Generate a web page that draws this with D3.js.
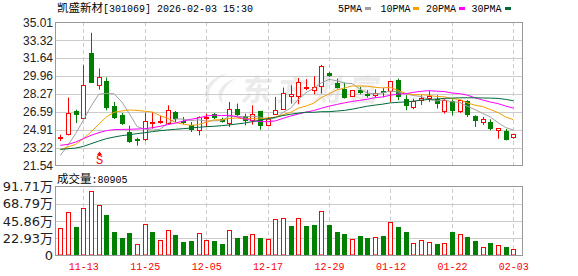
<!DOCTYPE html>
<html lang="zh-CN">
<head>
<meta charset="UTF-8">
<title>凯盛新材[301069] 日K</title>
<script src="https://d3js.org/d3.v7.min.js"></script>
<style>
  body { margin: 0; background: #fff; }
  svg { display: block; }
  .cjk { font-family: 'Noto Sans CJK SC', sans-serif; }
  .mono { font-family: 'Liberation Mono', 'DejaVu Sans Mono', monospace; }
  .mono-cjk { font-family: 'Liberation Mono', 'Noto Sans CJK SC', monospace; }
  .price-axis text { font-family: 'Liberation Sans', Arial, sans-serif; font-size: 12px; fill: #222; }
  .vol-axis text { font-family: 'DejaVu Sans', 'Noto Sans CJK SC', sans-serif; font-size: 13px; fill: #222; }
  .date-axis text { font-family: 'Liberation Mono', monospace; font-size: 10px; fill: #f00; }
  .grid line { stroke: #ccc; shape-rendering: crispEdges; }
  .grid .domain { display: none; }
  .vgrid line { stroke-dasharray: 4,3; }
</style>
</head>
<body>
<div id="chart"></div>
<script>
const stockName = "凯盛新材";
const stockCode = "301069";
const stamp = "2026-02-03 15:30";

// trading days, 11-10 .. 02-03
const dates = ["11-10","11-11","11-12","11-13","11-14","11-17","11-18","11-19","11-20","11-21",
  "11-24","11-25","11-26","11-27","11-28","12-01","12-02","12-03","12-04","12-05",
  "12-08","12-09","12-10","12-11","12-12","12-15","12-16","12-17","12-18","12-19",
  "12-22","12-23","12-24","12-25","12-26","12-29","12-30","12-31","01-05","01-06",
  "01-07","01-08","01-09","01-12","01-13","01-14","01-15","01-16","01-19","01-20",
  "01-21","01-22","01-23","01-26","01-27","01-28","01-29","01-30","02-02","02-03"];

const opens = [24.20,24.47,26.68,26.05,32.09,29.16,29.51,27.12,26.33,24.66,
  24.03,24.00,25.55,25.61,25.54,26.55,25.73,25.39,24.91,25.99,
  26.36,25.92,25.58,26.90,26.21,25.80,26.65,25.32,26.43,26.90,
  28.06,28.06,28.85,28.63,29.01,30.30,29.32,28.79,28.06,28.63,
  28.25,28.16,28.54,28.54,29.57,27.84,27.06,27.69,27.87,27.84,
  26.68,27.59,26.68,27.59,26.17,25.67,25.61,24.91,24.76,24.22];
const highs = [24.44,27.94,26.80,30.99,34.04,30.68,29.83,27.53,26.49,25.29,
  24.16,26.52,26.55,26.21,27.21,26.68,26.11,25.64,26.17,26.43,
  26.49,26.05,27.53,27.37,26.43,27.21,26.65,26.11,28.00,28.88,
  29.10,29.79,29.67,29.95,31.02,30.36,29.73,29.35,28.66,28.94,
  28.63,28.72,28.85,29.48,29.73,28.16,27.84,28.16,28.57,28.16,
  27.84,27.75,27.72,27.69,26.27,26.11,25.89,25.04,24.98,24.54];
const lows = [23.85,24.38,25.54,26.00,29.32,28.69,26.74,25.92,25.36,23.66,
  23.40,23.85,25.01,25.48,25.42,25.64,25.42,24.69,24.38,25.17,
  25.92,25.58,25.17,26.11,25.32,25.39,24.91,25.23,26.43,26.84,
  27.37,27.31,28.63,28.25,28.31,29.89,28.79,27.84,28.03,28.25,
  27.94,27.94,27.97,27.53,27.69,26.74,26.84,27.24,27.53,26.90,
  26.43,26.27,26.49,26.11,25.17,25.36,24.85,24.06,23.91,24.06];
const closes = [24.25,26.52,26.30,29.16,29.35,29.89,26.99,26.05,25.42,23.75,
  23.85,25.72,25.65,25.73,26.74,25.92,25.54,24.91,26.11,26.15,
  26.02,25.64,26.90,26.27,25.70,26.39,25.23,25.89,26.80,28.41,
  28.31,29.45,28.98,28.95,30.90,29.95,28.85,27.91,28.63,28.41,
  28.06,28.41,28.38,29.48,28.00,27.15,27.62,27.94,28.09,27.31,
  27.69,26.68,27.69,26.27,25.73,25.89,24.95,25.04,23.97,24.54];

// volume, 万
const volumes = [37.1,57.7,37.6,62.6,85.9,66.7,53.7,31.3,23.7,29.5,
  15.7,42.5,30.9,21.0,34.4,26.8,17.4,18.8,30.4,21.0,
  18.8,14.8,34.4,23.7,25.5,29.1,23.7,22.4,47.9,49.2,
  39.8,50.5,39.8,41.2,58.6,41.2,30.9,28.2,22.4,26.4,
  23.7,25.1,25.5,44.3,37.6,30.9,16.1,20.1,17.4,14.8,
  16.1,30.9,29.1,24.2,18.8,11.6,16.1,14.3,10.7,8.09];
const lastVolume = 80905;

const ma5 = [22.49,23.45,24.54,25.80,27.12,28.24,28.34,28.29,27.54,26.42,
  25.21,24.96,24.88,24.94,25.52,25.93,25.91,25.77,25.84,25.73,
  25.75,25.77,26.16,26.20,26.11,26.18,26.10,25.90,26.00,26.54,
  26.93,27.77,28.39,28.82,29.32,29.65,29.53,29.31,29.25,28.75,
  28.37,28.28,28.38,28.55,28.47,28.28,28.13,28.04,27.76,27.62,
  27.73,27.54,27.49,27.13,26.81,26.45,26.11,25.58,25.12,24.88];
const ma10 = [23.03,23.28,23.53,24.07,24.70,25.42,26.11,26.55,26.68,26.77,
  26.73,26.65,26.58,26.24,25.98,25.58,25.44,25.32,25.39,25.62,
  25.84,25.84,25.97,26.02,25.92,25.96,25.93,26.03,26.10,26.33,
  26.55,26.94,27.14,27.41,27.93,28.29,28.65,28.85,29.03,29.03,
  29.01,28.91,28.85,28.90,28.61,28.33,28.21,28.21,28.15,28.04,
  28.01,27.83,27.77,27.44,27.22,27.09,26.82,26.53,26.12,25.85];
const ma20 = [23.44,23.53,23.75,24.07,24.38,24.63,24.82,24.92,24.94,24.95,
  24.98,25.01,25.10,25.23,25.39,25.54,25.73,25.89,26.02,26.20,
  26.29,26.24,26.27,26.13,25.95,25.77,25.68,25.67,25.74,25.98,
  26.20,26.39,26.56,26.72,26.93,27.13,27.29,27.44,27.57,27.68,
  27.78,27.93,28.00,28.16,28.27,28.31,28.43,28.53,28.59,28.54,
  28.51,28.37,28.31,28.17,27.92,27.71,27.52,27.37,27.14,26.95];
const ma30 = [23.06,23.12,23.18,23.34,23.59,23.84,24.07,24.22,24.35,24.44,
  24.54,24.63,24.73,24.82,24.89,24.95,25.01,25.07,25.14,25.20,
  25.23,25.29,25.36,25.45,25.54,25.67,25.80,25.95,26.08,26.24,
  26.37,26.47,26.56,26.55,26.61,26.61,26.67,26.73,26.84,26.99,
  27.13,27.23,27.32,27.44,27.49,27.53,27.60,27.70,27.76,27.80,
  27.86,27.89,27.92,27.92,27.92,27.90,27.89,27.86,27.77,27.64];

const maNames = ["5PMA", "10PMA", "20PMA", "30PMA"];
const priceTicks = [35.01, 33.32, 31.64, 29.96, 28.27, 26.59, 24.91, 23.22, 21.54];
const volTicks = [91.71, 68.79, 45.86, 22.93, 0];
const dateTicks = ["11-13", "11-25", "12-05", "12-17", "12-29", "01-12", "01-22", "02-03"];
const signals = [{ date: "11-17", label: "S" }];

// layout + styles
const W = 578, H = 276;
const left = 55.5, right = 522.5;
const mainTop = 22.5, mainBottom = 165.5;
const volTop = 186.5, volBottom = 255.5;
const UP = "#ff0000", DOWN = "#008000";
const maColors = ["#a0a0a0", "#f5a000", "#ff00ff", "#006a3a"];
const legendX = [338, 380.5, 426, 471.5];
const swatchX = [365, 413, 459, 505];

const svg = d3.select("#chart").append("svg").attr("width", W).attr("height", H);

const x = d3.scalePoint().domain(dates).range([60.3, 513.3]);
const y = d3.scaleLinear().domain([21.54, 35.01]).range([mainBottom, mainTop]);
const yv = d3.scaleLinear().domain([0, 91.71]).range([volBottom, volTop]);
const cx = d => Math.round(x(d)) + 0.5;

// watermark
const wm = svg.append("g").attr("fill", "#ebebeb");
wm.append("path").attr("d", "M228 73 C208 78 198 93 211 104 C205 92 212 81 228 73 Z");
wm.append("path").attr("d", "M236 78 C219 84 214 96 223 104 C219 94 225 86 236 78 Z");
wm.append("text").attr("class", "cjk")
  .attr("transform", "translate(240,101) skewX(-10)")
  .attr("font-size", 30).attr("font-weight", "bold").attr("letter-spacing", 6)
  .text("东方财富");

// grids
svg.append("g").attr("class", "grid")
  .attr("transform", `translate(${left},0)`)
  .call(d3.axisLeft(y).tickValues(priceTicks.slice(1, -1)).tickSize(-(right - left)).tickFormat(""));
svg.append("g").attr("class", "grid")
  .attr("transform", `translate(${left},0)`)
  .call(d3.axisLeft(yv).tickValues(volTicks.slice(1, -1)).tickSize(-(right - left)).tickFormat(""));
svg.append("g").attr("class", "grid vgrid")
  .attr("transform", `translate(0,${mainBottom})`)
  .call(d3.axisBottom(x).tickValues(dateTicks).tickSize(-(mainBottom - mainTop)).tickFormat(""));
svg.append("g").attr("class", "grid vgrid")
  .attr("transform", `translate(0,${volBottom})`)
  .call(d3.axisBottom(x).tickValues(dateTicks).tickSize(-(volBottom - volTop)).tickFormat(""));

// axis labels
const pa = svg.append("g").attr("class", "price-axis")
  .attr("transform", `translate(${left},0)`)
  .call(d3.axisLeft(y).tickValues(priceTicks).tickSize(0).tickPadding(2.5).tickFormat(d3.format(".2f")));
pa.select(".domain").remove();
pa.selectAll("text").attr("dy", "0.3em");

const va = svg.append("g").attr("class", "vol-axis")
  .attr("transform", `translate(${left},0)`)
  .call(d3.axisLeft(yv).tickValues(volTicks).tickSize(0).tickPadding(2.5)
    .tickFormat(d => d ? d.toFixed(2) + "万" : "0"));
va.select(".domain").remove();
va.selectAll("text").attr("dy", "0.32em");

const da = svg.append("g").attr("class", "date-axis")
  .attr("transform", `translate(0,${volBottom})`)
  .call(d3.axisBottom(x).tickValues(dateTicks).tickSize(0).tickPadding(7));
da.select(".domain").remove();

// candles
const candles = svg.append("g");
dates.forEach((d, i) => {
  const c = cx(d);
  const o = opens[i], cl = closes[i];
  const top = Math.round(y(Math.max(o, cl)));
  const bot = Math.round(y(Math.min(o, cl)));
  if (cl >= o) {
    const h = Math.max(bot - top, 1);
    candles.append("line").attr("x1", c).attr("x2", c)
      .attr("y1", y(highs[i])).attr("y2", top + 0.5).attr("stroke", UP);
    candles.append("line").attr("x1", c).attr("x2", c)
      .attr("y1", top + h + 0.5).attr("y2", y(lows[i])).attr("stroke", UP);
    candles.append("rect").attr("x", c - 2).attr("y", top + 0.5)
      .attr("width", 4).attr("height", h)
      .attr("fill", "#fff").attr("stroke", UP);
  } else {
    candles.append("line").attr("x1", c).attr("x2", c)
      .attr("y1", y(highs[i])).attr("y2", y(lows[i])).attr("stroke", DOWN);
    candles.append("rect").attr("x", c - 2.5).attr("y", top)
      .attr("width", 5).attr("height", Math.max(bot - top, 1)).attr("fill", DOWN);
  }
});

// moving averages
const line = d3.line().x((v, i) => x(dates[i])).y(v => y(v));
[ma5, ma10, ma20, ma30].forEach((s, k) => {
  svg.append("path").attr("d", line(s)).attr("fill", "none")
    .attr("stroke", maColors[k]).attr("stroke-width", 1);
});

// volume bars, coloured by change from previous close
const vols = svg.append("g");
dates.forEach((d, i) => {
  const c = cx(d);
  const prev = i ? closes[i - 1] : opens[0];
  const top = Math.round(yv(volumes[i]));
  if (closes[i] >= prev) {
    vols.append("rect").attr("x", c - 2).attr("y", top + 0.5)
      .attr("width", 4).attr("height", volBottom - top - 1)
      .attr("fill", "#fff").attr("stroke", UP);
  } else {
    vols.append("rect").attr("x", c - 2.5).attr("y", top)
      .attr("width", 5).attr("height", volBottom - top).attr("fill", DOWN);
  }
});

// frames
[[mainTop, mainBottom], [volTop, volBottom]].forEach(([t, b]) => {
  svg.append("rect").attr("x", left).attr("y", t)
    .attr("width", right - left).attr("height", b - t)
    .attr("fill", "none").attr("stroke", "#999").attr("shape-rendering", "crispEdges");
});

// signal marker under the price panel
signals.forEach(s => {
  const c = cx(s.date);
  svg.append("path").attr("d", `M${c - 2.5},155 L${c + 2.5},155 L${c},151.5 Z`).attr("fill", UP);
  svg.append("text").attr("class", "mono").attr("x", c).attr("y", 164)
    .attr("text-anchor", "middle").attr("font-size", 12).attr("fill", UP).text(s.label);
});

// title
const title = svg.append("text").attr("x", 57).attr("y", 12).attr("fill", "#000");
title.append("tspan").attr("class", "mono-cjk").attr("font-size", 11.5).text(stockName);
title.append("tspan").attr("class", "mono").attr("font-size", 10).text(`[${stockCode}] ${stamp}`);

// legend
maNames.forEach((n, k) => {
  svg.append("text").attr("class", "mono").attr("x", legendX[k]).attr("y", 12)
    .attr("font-size", 10).attr("fill", "#000").text(n);
  svg.append("rect").attr("x", swatchX[k]).attr("y", 7).attr("width", 6).attr("height", 3)
    .attr("fill", maColors[k]);
});

// volume caption
const vc = svg.append("text").attr("x", 57).attr("y", 182.5).attr("fill", "#000");
vc.append("tspan").attr("class", "mono-cjk").attr("font-size", 11.5).text("成交量");
vc.append("tspan").attr("class", "mono").attr("font-size", 10).text(":" + lastVolume);
</script>
</body>
</html>
